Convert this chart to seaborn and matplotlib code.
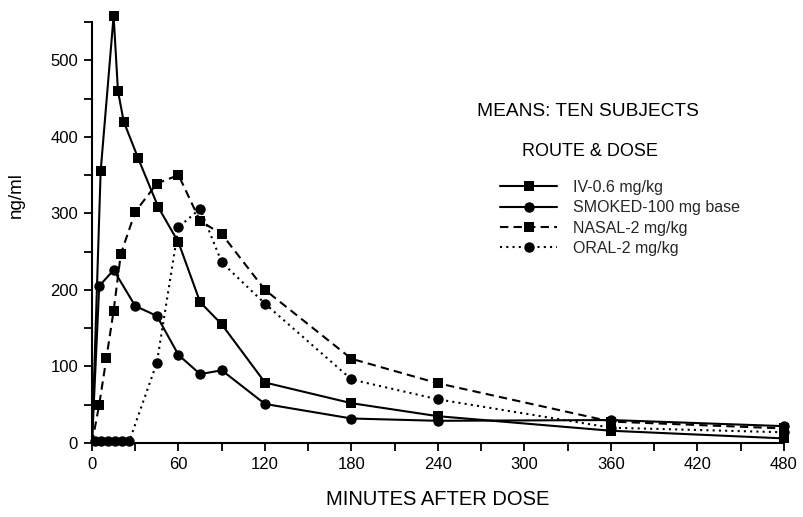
"""Plasma cocaine concentration by route of administration (means, ten subjects)."""
import matplotlib
matplotlib.use("Agg")
import matplotlib.pyplot as plt
from matplotlib.lines import Line2D
import seaborn as sns

# minutes after dose / ng/ml
iv_time = [0, 6, 15, 18, 22, 32, 46, 60, 75, 90, 120, 180, 240, 360, 480]
iv_conc = [0, 355, 558, 460, 420, 372, 308, 262, 184, 155, 79, 52, 35, 16, 6]

smoked_time = [0, 5, 15, 30, 45, 60, 75, 90, 120, 180, 240, 360, 480]
smoked_conc = [0, 205, 226, 179, 166, 115, 90, 95, 51, 32, 29, 30, 22]

nasal_time = [0, 5, 10, 15, 20, 30, 45, 60, 75, 90, 120, 180, 240, 360, 480]
nasal_conc = [0, 50, 111, 173, 247, 302, 339, 350, 290, 273, 200, 110, 78, 28, 19]

oral_time = [2, 6, 11, 16, 21, 26, 45, 60, 75, 90, 120, 180, 240, 360, 480]
oral_conc = [3, 3, 3, 3, 3, 3, 105, 282, 306, 236, 182, 83, 57, 20, 14]

labels = ["IV-0.6 mg/kg", "SMOKED-100 mg base", "NASAL-2 mg/kg", "ORAL-2 mg/kg"]

sns.set_theme(style="ticks")
plt.rcParams["font.family"] = ["Liberation Sans", "DejaVu Sans"]

fig = plt.figure(figsize=(8.04, 5.17), dpi=100)
ax = fig.add_axes([92 / 804, 1 - 443 / 517, 692 / 804, 421 / 517])

series = [
    (iv_time, iv_conc, "s", "-", slice(1, None)),
    (smoked_time, smoked_conc, "o", "-", slice(1, None)),
    (nasal_time, nasal_conc, "s", (0, (4, 2.5)), slice(1, None)),
    (oral_time, oral_conc, "o", (0, (1, 2)), None),
]
handles = []
for (t, c, mk, ls, every), lab in zip(series, labels):
    ms = 7.5 if mk == "o" else 7
    sns.lineplot(x=t, y=c, ax=ax, color="black", marker=mk, linestyle=ls,
                 linewidth=1.5, markersize=ms, markeredgewidth=0,
                 markevery=every, clip_on=False, zorder=3)
    # proxy for the legend: one marker in the middle of the line
    handles.append(Line2D([], [], color="black", marker=mk, linestyle=ls,
                          linewidth=1.5, markersize=ms, markeredgewidth=0))

ax.set_xlim(0, 480)
ax.set_ylim(0, 550)
sns.despine(ax=ax)
for sp in ["left", "bottom"]:
    ax.spines[sp].set_linewidth(1.5)
    ax.spines[sp].set_color("black")

xt = list(range(0, 481, 30))
ax.set_xticks(xt)
ax.set_xticklabels([str(v) if v % 60 == 0 else "" for v in xt])
yt = list(range(0, 551, 50))
ax.set_yticks(yt)
ax.set_yticklabels([str(v) if v % 100 == 0 else "" for v in yt])
ax.tick_params(axis="both", length=6, width=1.3, color="black",
               labelsize=12, labelcolor="black", pad=4)

ax.set_xlabel("MINUTES AFTER DOSE", fontsize=14.5, color="black")
ax.xaxis.set_label_coords(0.5, -0.112)
ax.set_ylabel("ng/ml", fontsize=13.5, color="black")
ax.yaxis.set_label_coords(-0.097, 0.59)

fig.text(588 / 804, 1 - 112 / 517, "MEANS: TEN SUBJECTS", ha="center", va="center",
         fontsize=13.8, color="black")
fig.text(590 / 804, 1 - 152 / 517, "ROUTE & DOSE", ha="center", va="center",
         fontsize=13, color="black")

ax.legend(handles=handles, labels=labels, loc="upper left",
          bbox_to_anchor=(500 / 804, 1 - 180 / 517), bbox_transform=fig.transFigure,
          frameon=False, fontsize=11.5, handlelength=3.6, handletextpad=1.0,
          labelspacing=0.33, borderpad=0, borderaxespad=0, numpoints=1)

fig.savefig("out.png", dpi=100)
